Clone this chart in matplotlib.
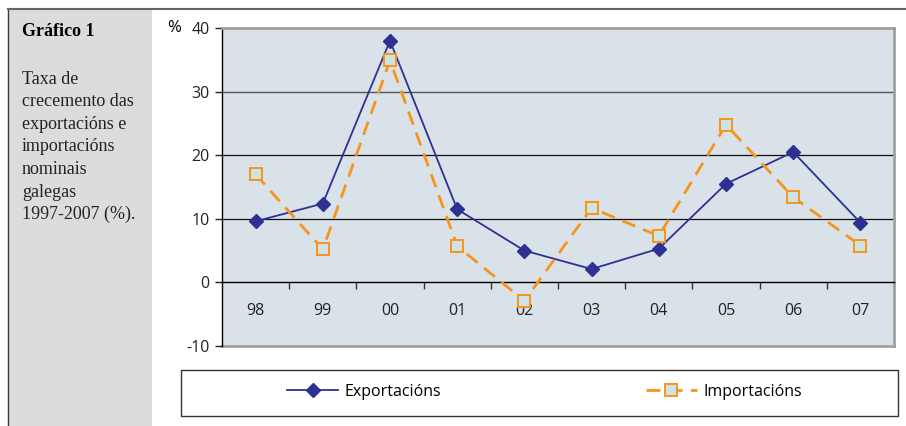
import matplotlib.pyplot as plt
from matplotlib.patches import Rectangle
from matplotlib.lines import Line2D
import numpy as np

# datos: taxa de crecemento (%)
anos = ["98", "99", "00", "01", "02", "03", "04", "05", "06", "07"]
exportacions = [9.6, 12.4, 38.0, 11.5, 5.0, 2.1, 5.3, 15.5, 20.5, 9.4]
importacions = [17.0, 5.2, 34.9, 5.7, -2.9, 11.7, 7.3, 24.8, 13.4, 5.8]
yticks = [-10, 0, 10, 20, 30, 40]

W, H = 906, 426
plt.rcParams["font.family"] = ["Open Sans", "DejaVu Sans"]

fig = plt.figure(figsize=(W / 100, H / 100), dpi=100)
fig.patch.set_facecolor("white")


def fx(px):
    return px / W


def fy(py):
    return 1 - py / H


# panel gris da esquerda
fig.patches.append(Rectangle((fx(8), 0), fx(152) - fx(8), fy(9), transform=fig.transFigure,
                             facecolor="#dcdcde", edgecolor="none", zorder=0))
fig.lines.append(Line2D([fx(8), fx(8)], [0, fy(9)], transform=fig.transFigure,
                        color="#3a3a3a", lw=1.0))
fig.lines.append(Line2D([fx(8), 1], [fy(9), fy(9)], transform=fig.transFigure,
                        color="#666666", lw=1.5))

fig.text(fx(22), fy(32), "Gráfico 1", family="Liberation Serif", weight="bold",
         fontsize=13, va="center", ha="left")
body = ["Taxa de", "crecemento das", "exportacións e", "importacións",
        "nominais", "galegas", "1997-2007 (%)."]
for i, line in enumerate(body):
    fig.text(fx(22), fy(79 + i * 22.6), line, family="Liberation Serif",
             fontsize=13, va="center", ha="left", color="#222222")

# eixo principal
ax = fig.add_axes([fx(222), fy(346), fx(894) - fx(222), fy(28) - fy(346)])
ax.set_facecolor("#d8e2e8")
x = np.arange(len(anos)) + 0.5
ax.set_xlim(0, len(anos))
ax.set_ylim(-10, 40)

for g in [10, 20]:
    ax.axhline(g, color="#111111", lw=0.9, zorder=1)
ax.axhline(30, color="#555555", lw=1.0, zorder=1)
ax.axhline(-10, color="#a0a0a0", lw=2, zorder=1, clip_on=False)

ax.plot(x, exportacions, color="#2e3192", lw=1.3, marker="D", markersize=7,
        zorder=3, label="Exportacións")
ax.plot(x, importacions, color="#f7941d", lw=2.0, linestyle=(0, (5, 3)),
        marker="s", markersize=8, markerfacecolor="#cfe4e2",
        markeredgecolor="#f7941d", markeredgewidth=1.4, zorder=3,
        label="Importacións")

for s in ["top", "right"]:
    ax.spines[s].set_color("#a0a0a0")
    ax.spines[s].set_linewidth(2)
ax.spines["left"].set_color("black")
ax.spines["left"].set_linewidth(1.0)
ax.spines["bottom"].set_position(("data", 0))
ax.spines["bottom"].set_color("black")
ax.spines["bottom"].set_linewidth(1.0)

ax.set_yticks(yticks)
ax.set_yticklabels([str(v) for v in yticks])
ax.tick_params(axis="y", direction="out", length=5, width=1, pad=4,
               labelsize=11.5, colors="#222222")
ax.set_xticks(np.arange(1, len(anos) + 1))
ax.set_xticklabels([])
ax.set_xticks(x, minor=True)
ax.set_xticklabels(anos, minor=True)
ax.tick_params(axis="x", which="major", direction="out", length=5, width=1,
               color="#333333")
ax.tick_params(axis="x", which="minor", length=0, pad=15, labelsize=11.5,
               labelcolor="#222222")

fig.text(fx(174), fy(28), "%", fontsize=12, ha="center", va="center")

# lenda
fig.patches.append(Rectangle((fx(181), fy(416)), fx(898) - fx(181), fy(370) - fy(416),
                             transform=fig.transFigure, facecolor="white",
                             edgecolor="#333333", lw=1.0, zorder=1))
fig.legend(loc="center left", bbox_to_anchor=(fx(287), fy(392)), ncol=2,
           frameon=False, fontsize=11.5, handlelength=3.2, handletextpad=0.4,
           columnspacing=12.8, borderpad=0, borderaxespad=0)

fig.savefig("out.png", dpi=100)
